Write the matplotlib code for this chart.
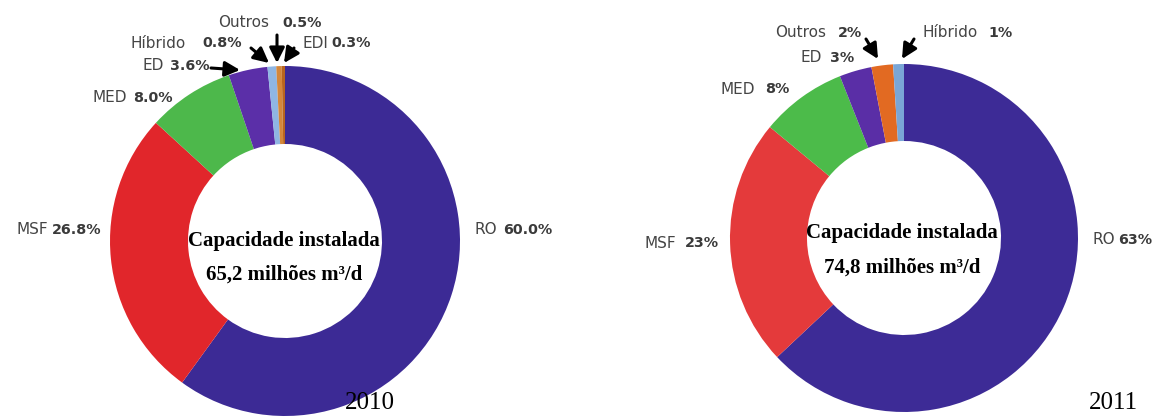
import matplotlib
matplotlib.use("Agg")
import matplotlib.pyplot as plt

W, H = 1159, 419

# Installed desalination capacity by process (share of total, %)
processos_2010 = ["RO", "MSF", "MED", "ED", "Híbrido", "Outros", "EDI"]
percentuais_2010 = [60.0, 26.8, 8.0, 3.6, 0.8, 0.5, 0.3]
processos_2011 = ["RO", "MSF", "MED", "ED", "Outros", "Híbrido"]
percentuais_2011 = [63, 23, 8, 3, 2, 1]
capacidade_2010 = "65,2"
capacidade_2011 = "74,8"
anos = ["2010", "2011"]

cores_2010 = {"RO": "#3c2a95", "MSF": "#e1262b", "MED": "#4db84b", "ED": "#5b2fa8",
              "Híbrido": "#8fb6e3", "Outros": "#d4873a", "EDI": "#b8651e"}
cores_2011 = {"RO": "#3d2b96", "MSF": "#e43a3b", "MED": "#4cbb4a", "ED": "#5a2ea6",
              "Outros": "#e26a22", "Híbrido": "#7aa6d6"}

# label layout in pixel coordinates (top-left origin): name x, value x, y
rotulos_2010 = {"RO": (475, 503, 230), "MSF": (16, 52, 230), "MED": (93, 133, 98),
                "ED": (143, 170, 66), "Híbrido": (130, 202, 43), "Outros": (218, 282, 23),
                "EDI": (302, 331, 43)}
setas_2010 = [((211, 68), (240, 70)), ((251, 48), (269, 63)), ((277, 35), (277, 63)),
              ((294, 48), (284, 63))]
rotulos_2011 = {"RO": (1093, 1118, 240), "MSF": (645, 685, 243), "MED": (720, 765, 89),
                "ED": (800, 830, 58), "Outros": (775, 838, 33), "Híbrido": (922, 988, 33)}
setas_2011 = [((866, 39), (878, 59)), ((914, 39), (902, 59))]

fig = plt.figure(figsize=(W / 100, H / 100), dpi=100)
ax = fig.add_axes([0, 0, 1, 1])


def Y(py):
    return H - py


def rosca(processos, valores, cores, cx, cy, R, r):
    ax.pie(valores, colors=[cores[p] for p in processos], startangle=90,
           counterclock=False, radius=R, center=(cx, Y(cy)),
           wedgeprops=dict(width=R - r, edgecolor="none", linewidth=0), frame=True)


def rotulos(processos, valores, layout, fmt):
    for p, v in zip(processos, valores):
        nx, vx, y = layout[p]
        ax.text(nx, Y(y), p, ha="left", va="center", fontsize=11,
                color="#454545", family="DejaVu Sans")
        ax.text(vx, Y(y), fmt.format(v), ha="left", va="center", fontsize=10.3,
                color="#3a3a3a", family="DejaVu Sans", fontweight="bold")


def setas(lista):
    for (x0, y0), (x1, y1) in lista:
        ax.annotate("", xy=(x1, Y(y1)), xytext=(x0, Y(y0)),
                    arrowprops=dict(arrowstyle="-|>,head_length=0.7,head_width=0.35",
                                    lw=2.2, color="black", shrinkA=0, shrinkB=0,
                                    mutation_scale=13))


def centro(cx, y1, y2, cap):
    ax.text(cx, Y(y1), "Capacidade instalada", ha="center", va="center",
            fontsize=15, family="Liberation Serif", fontweight="bold", color="black")
    ax.text(cx, Y(y2), f"{cap} milhões m³/d", ha="center", va="center",
            fontsize=15, family="Liberation Serif", fontweight="bold", color="black")


rosca(processos_2010, percentuais_2010, cores_2010, 285, 241, 175, 97)
rosca(processos_2011, percentuais_2011, cores_2011, 904, 238, 174, 97)

rotulos(processos_2010, percentuais_2010, rotulos_2010, "{:.1f}%")
rotulos(processos_2011, percentuais_2011, rotulos_2011, "{:d}%")
setas(setas_2010)
setas(setas_2011)

centro(284, 241, 275, capacidade_2010)
centro(902, 233, 268, capacidade_2011)

ax.text(370, Y(403), anos[0], ha="center", va="center", fontsize=18,
        family="Liberation Serif", color="black")
ax.text(1113, Y(403), anos[1], ha="center", va="center", fontsize=18,
        family="Liberation Serif", color="black")

ax.set_xlim(0, W)
ax.set_ylim(0, H)
ax.set_aspect("equal")
ax.axis("off")

fig.savefig("out.png", dpi=100, facecolor="white")
